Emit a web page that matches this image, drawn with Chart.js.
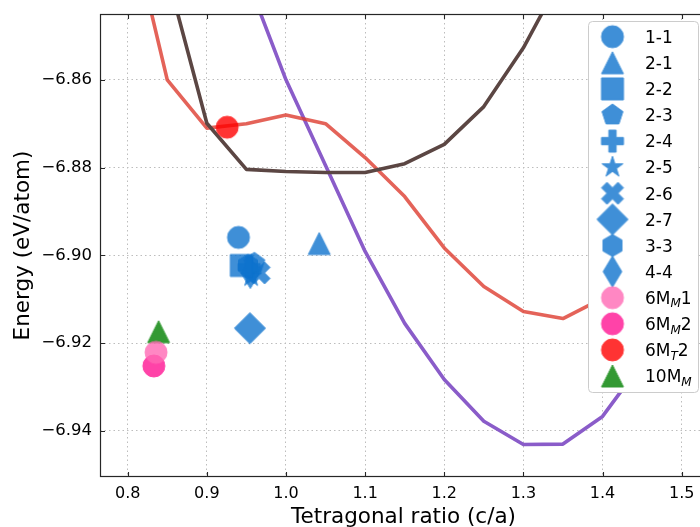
<!DOCTYPE html>
<html><head><meta charset="utf-8">
<script src="https://cdn.jsdelivr.net/npm/chart.js@4.4.1/dist/chart.umd.min.js"></script>
<style>html,body{margin:0;padding:0;background:#fff;overflow:hidden;width:700px;height:527px;}#wrap{width:700px;height:527px;position:relative;overflow:hidden;}</style>
</head><body><div id="wrap"><canvas id="c" width="720" height="527"></canvas></div>
<script>
// ---- data ----
const xTicks = [0.8, 0.9, 1.0, 1.1, 1.2, 1.3, 1.4, 1.5];
const yTicks = [-6.94, -6.92, -6.90, -6.88, -6.86];

const redX = [0.80, 0.85, 0.90, 0.95, 1.00, 1.05, 1.10, 1.15, 1.20, 1.25, 1.30, 1.35, 1.40, 1.45, 1.50];
const redY = [-6.822, -6.860, -6.871, -6.870, -6.868, -6.870, -6.8777, -6.8866, -6.8983, -6.9071, -6.9128, -6.9144, -6.9098, -6.903, -6.893];
const brownX = [0.85, 0.90, 0.95, 1.00, 1.05, 1.10, 1.15, 1.20, 1.25, 1.30, 1.35];
const brownY = [-6.836, -6.8699, -6.8804, -6.8809, -6.8811, -6.8811, -6.8791, -6.8747, -6.8661, -6.8527, -6.836];
const purpleX = [0.95, 1.00, 1.05, 1.10, 1.15, 1.20, 1.25, 1.30, 1.35, 1.40, 1.45, 1.50];
const purpleY = [-6.8365, -6.860, -6.8795, -6.8991, -6.9155, -6.9283, -6.9378, -6.9431, -6.9430, -6.9367, -6.9245, -6.910];

const markerLabels = ['1-1', '2-1', '2-2', '2-3', '2-4', '2-5', '2-6', '2-7', '3-3', '4-4', '6M_{M}1', '6M_{M}2', '6M_{T}2', '10M_{M}'];
const markerX = [0.940, 1.042, 0.9435, 0.960, 0.9535, 0.956, 0.966, 0.9544, 0.952, 0.955, 0.8358, 0.833, 0.9257, 0.839];
const markerY = [-6.8959, -6.8973, -6.9023, -6.9018, -6.9027, -6.9048, -6.9040, -6.9166, -6.9023, -6.9040, -6.9221, -6.9252, -6.8708, -6.9174];

// ---- styles ----
const BLUE = '#0f73cd';
const markerShape = ['circle', 'triangle', 'square', 'pentagon', 'plus', 'star', 'x', 'diamond', 'hexagon', 'thindiamond', 'circle', 'circle', 'circle', 'triangle'];
const markerColor = [BLUE, BLUE, BLUE, BLUE, BLUE, BLUE, BLUE, BLUE, BLUE, BLUE, '#ff69b4', '#ff1493', '#ff0000', '#008000'];
const MSIZE = 22;

function makeMarker(shape, color) {
  const S = 44;
  const a = document.createElement('canvas'); a.width = S; a.height = S;
  const g = a.getContext('2d');
  g.translate(S / 2, S / 2);
  const d = MSIZE, r = d / 2;
  const poly = (pts) => { g.moveTo(pts[0][0], pts[0][1]); for (let i = 1; i < pts.length; i++) g.lineTo(pts[i][0], pts[i][1]); g.closePath(); };
  g.beginPath();
  if (shape === 'circle') g.arc(0, 0, r, 0, Math.PI * 2);
  else if (shape === 'triangle') poly([[0, -r], [-r, r], [r, r]]);
  else if (shape === 'square') poly([[-r, -r], [r, -r], [r, r], [-r, r]]);
  else if (shape === 'pentagon' || shape === 'hexagon') {
    const n = shape === 'pentagon' ? 5 : 6, pts = [];
    for (let k = 0; k < n; k++) { const t = -Math.PI / 2 + k * 2 * Math.PI / n; pts.push([r * Math.cos(t), r * Math.sin(t)]); }
    poly(pts);
  } else if (shape === 'star') {
    const pts = [];
    for (let k = 0; k < 10; k++) { const t = -Math.PI / 2 + k * Math.PI / 5; const rr = k % 2 ? r * 0.381966 : r; pts.push([rr * Math.cos(t), rr * Math.sin(t)]); }
    poly(pts);
  } else if (shape === 'plus') {
    poly([[-1, -3], [1, -3], [1, -1], [3, -1], [3, 1], [1, 1], [1, 3], [-1, 3], [-1, 1], [-3, 1], [-3, -1], [-1, -1]].map(p => [p[0] * d / 6, p[1] * d / 6]));
  } else if (shape === 'x') {
    poly([[-1, -2], [0, -1], [1, -2], [2, -1], [1, 0], [2, 1], [1, 2], [0, 1], [-1, 2], [-2, 1], [-1, 0], [-2, -1]].map(p => [p[0] * d / 4, p[1] * d / 4]));
  } else if (shape === 'diamond' || shape === 'thindiamond') {
    const h = r * Math.SQRT2, w = shape === 'diamond' ? h : h * 0.6;
    poly([[0, -h], [w, 0], [0, h], [-w, 0]]);
  }
  g.fillStyle = color; g.fill();
  g.lineWidth = 1; g.strokeStyle = color; g.stroke();
  const b = document.createElement('canvas'); b.width = S; b.height = S;
  const gb = b.getContext('2d'); gb.globalAlpha = 0.8; gb.drawImage(a, 0, 0);
  return b;
}
const markerImgs = markerShape.map((s, i) => makeMarker(s, markerColor[i]));

const lineSets = [
  { xs: brownX, ys: brownY, color: '#5b4643', order: 2 },
  { xs: redX, ys: redY, color: 'rgba(221,60,48,0.8)', order: 3 },
  { xs: purpleX, ys: purpleY, color: '#8a5cc9', order: 4 }
];

const datasets = [];
lineSets.forEach(L => datasets.push({
  data: L.xs.map((x, i) => ({ x, y: L.ys[i] })),
  showLine: true, borderColor: L.color, borderWidth: 3.6, pointRadius: 0, tension: 0, order: L.order,
  borderJoinStyle: 'round'
}));
markerLabels.forEach((lab, i) => datasets.push({
  label: lab,
  data: [{ x: markerX[i], y: markerY[i] }],
  pointStyle: markerImgs[i], pointRadius: 12, order: 1
}));

const FONT = "'DejaVu Sans', sans-serif";

const framePlugin = {
  id: 'frame',
  afterDatasetsDraw(chart) {
    const { ctx, chartArea: a, scales: { x, y } } = chart;
    ctx.save();
    ctx.strokeStyle = '#262626'; ctx.lineWidth = 1.1;
    const L = 5;
    ctx.beginPath();
    xTicks.forEach(v => { const p = Math.round(x.getPixelForValue(v)) + 0.5; ctx.moveTo(p, a.bottom); ctx.lineTo(p, a.bottom - L); ctx.moveTo(p, a.top); ctx.lineTo(p, a.top + L); });
    yTicks.forEach(v => { const p = Math.round(y.getPixelForValue(v)) + 0.5; ctx.moveTo(a.left, p); ctx.lineTo(a.left + L, p); ctx.moveTo(a.right, p); ctx.lineTo(a.right - L, p); });
    ctx.stroke();
    ctx.lineWidth = 1.2;
    ctx.strokeRect(a.left + 0.5, a.top + 0.5, a.right - a.left - 1, a.bottom - a.top - 1);
    ctx.restore();
  },
  afterDraw(chart) {
    const { ctx } = chart;
    const bx = 588, by = 21, bw = 110, bh = 371;
    ctx.save();
    ctx.beginPath();
    if (ctx.roundRect) ctx.roundRect(bx + 0.5, by + 0.5, bw, bh, 4); else ctx.rect(bx + 0.5, by + 0.5, bw, bh);
    ctx.fillStyle = '#ffffff'; ctx.fill();
    ctx.strokeStyle = '#cccccc'; ctx.lineWidth = 1; ctx.stroke();
    const step = 26.1, y0 = 36.7, mx = 612.5, tx = 645;
    markerLabels.forEach((lab, i) => {
      const yy = y0 + i * step;
      const img = markerImgs[i];
      ctx.drawImage(img, mx - img.width / 2, yy - img.height / 2);
      const parts = []; const re = /_\{([^}]*)\}/g; let last = 0, m;
      while ((m = re.exec(lab))) { if (m.index > last) parts.push({ t: lab.slice(last, m.index), sub: false }); parts.push({ t: m[1], sub: true }); last = re.lastIndex; }
      if (last < lab.length) parts.push({ t: lab.slice(last), sub: false });
      let cx = tx;
      ctx.fillStyle = '#000'; ctx.textBaseline = 'alphabetic'; ctx.textAlign = 'left';
      const base = yy + 6.2;
      parts.forEach(p => {
        if (p.sub) { ctx.font = 'italic 12px ' + FONT; ctx.fillText(p.t, cx, base + 3.5); }
        else { ctx.font = '17px ' + FONT; ctx.fillText(p.t, cx, base); }
        cx += ctx.measureText(p.t).width;
      });
    });
    ctx.restore();
  }
};

new Chart(document.getElementById('c'), {
  type: 'scatter',
  data: { datasets },
  options: {
    responsive: false, animation: false, devicePixelRatio: 1,
    layout: { padding: { left: 0, right: 0, top: 14, bottom: 0 } },
    plugins: { legend: { display: false }, tooltip: { enabled: false } },
    scales: {
      x: {
        type: 'linear', min: 0.765, max: 1.532,
        afterBuildTicks: s => { s.ticks = xTicks.map(v => ({ value: v })); },
        afterFit: s => { s.height = 50; },
        ticks: { font: { family: FONT, size: 16 }, color: '#000', padding: 7, maxRotation: 0, autoSkip: false, callback: v => v.toFixed(1) },
        grid: { color: '#bdbdbd', lineWidth: 1, drawTicks: false },
        border: { display: false, dash: [1.5, 3] },
        title: { display: true, text: 'Tetragonal ratio (c/a)', font: { family: FONT, size: 21.5 }, color: '#000', padding: { top: 0, bottom: -3 } }
      },
      y: {
        type: 'linear', min: -6.9505, max: -6.845,
        afterBuildTicks: s => { s.ticks = yTicks.map(v => ({ value: v })); },
        afterFit: s => { s.width = 100; s.paddingTop = 0; s.paddingBottom = 0; },
        ticks: { font: { family: FONT, size: 16.5 }, color: '#000', padding: 8, autoSkip: false, callback: v => '\u2212' + Math.abs(v).toFixed(2) },
        grid: { color: '#bdbdbd', lineWidth: 1, drawTicks: false },
        border: { display: false, dash: [1.5, 3] },
        title: { display: true, text: 'Energy (eV/atom)', font: { family: FONT, size: 21.5 }, color: '#000', padding: { top: 11, bottom: 0 } }
      }
    }
  },
  plugins: [framePlugin]
});
</script>
</body></html>
